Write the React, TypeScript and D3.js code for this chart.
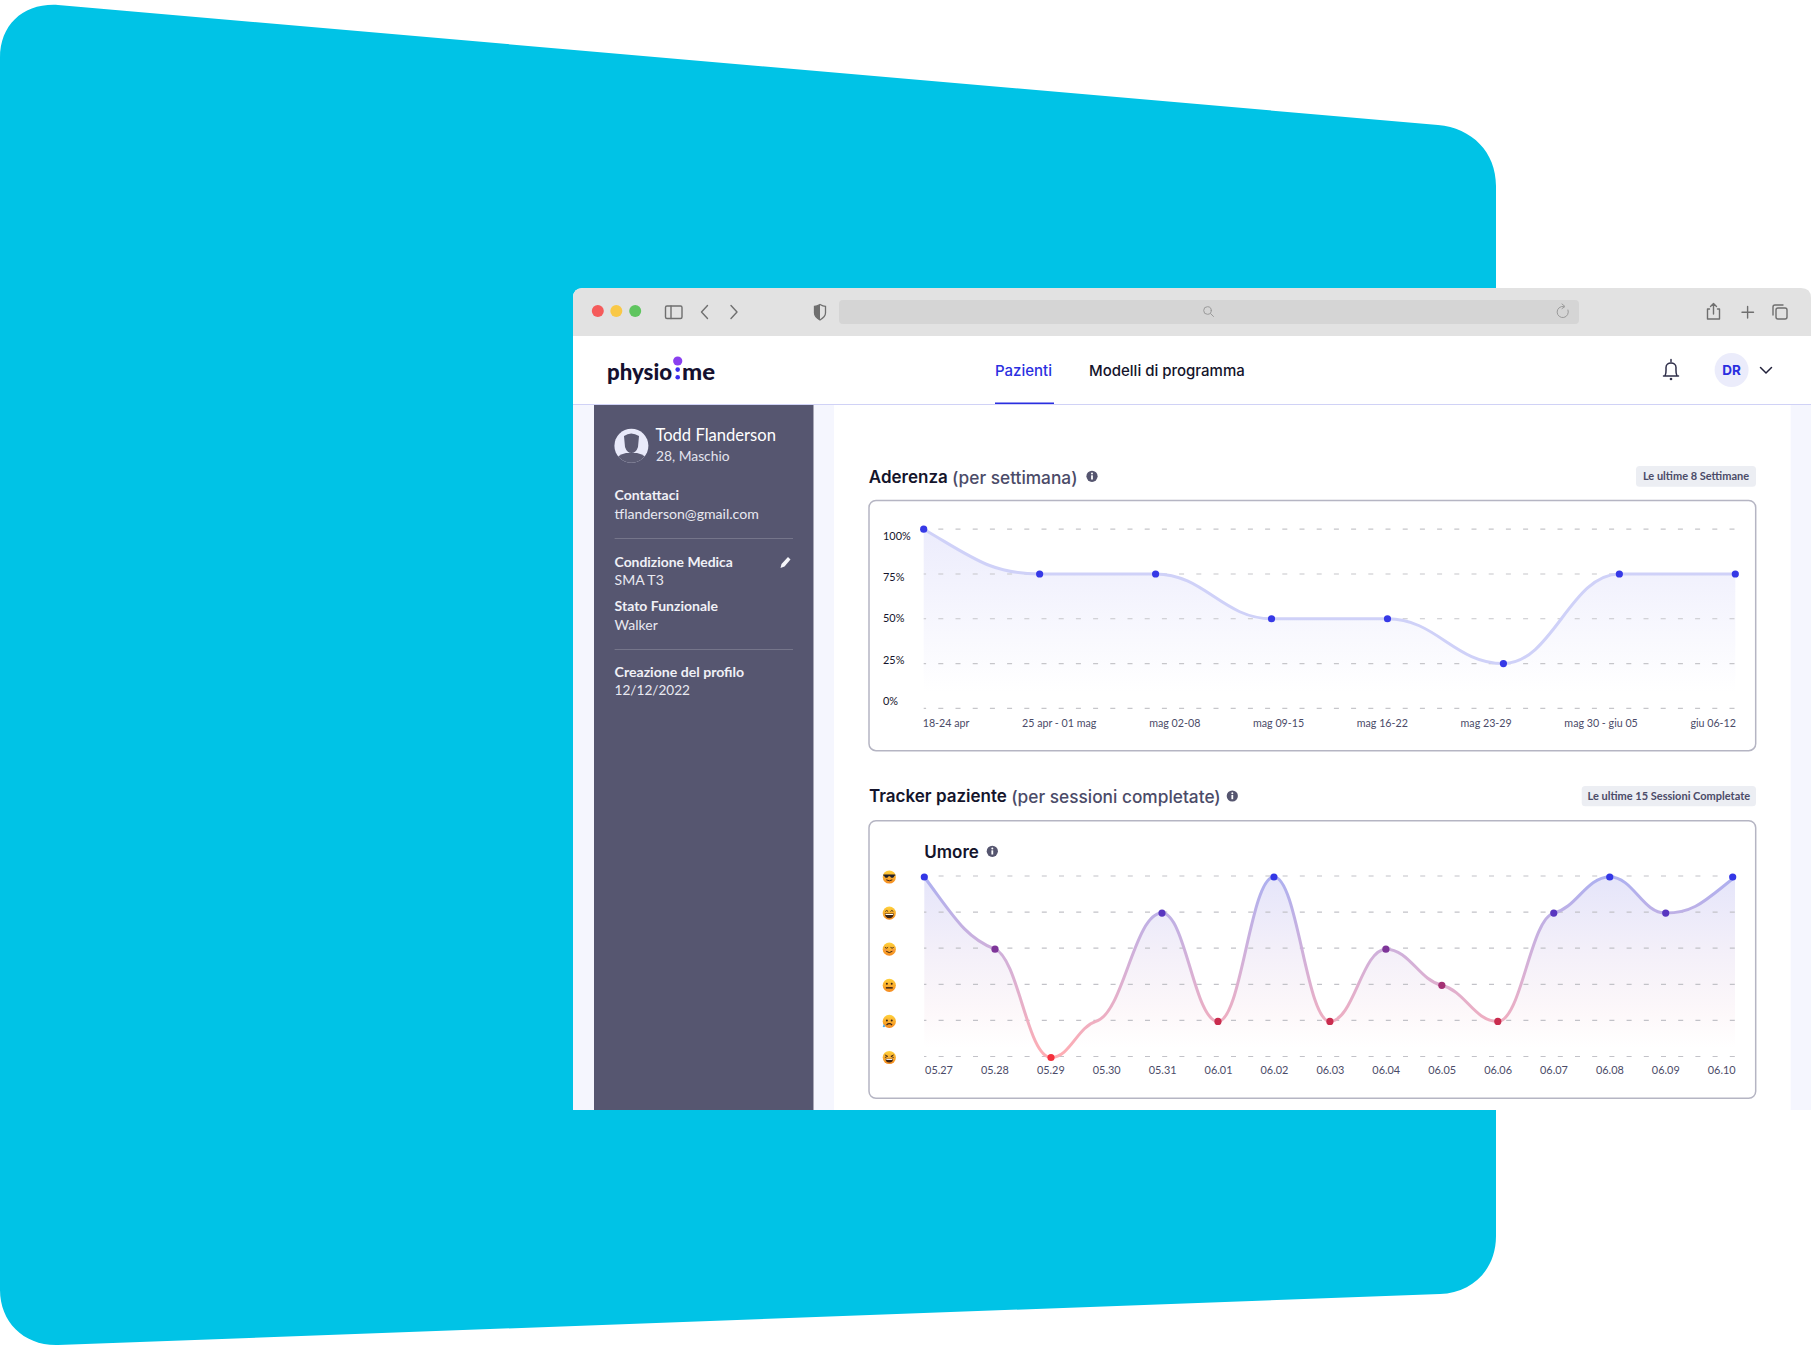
import React from "react";
import * as d3 from "d3";

// Aderenza (per settimana)
const weekLabels = ["18-24 apr", "25 apr - 01 mag", "mag 02-08", "mag 09-15", "mag 16-22", "mag 23-29", "mag 30 - giu 05", "giu 06-12"];
const weekValues = [100, 75, 75, 50, 50, 25, 75, 75];
const percentTicks = [100, 75, 50, 25, 0];

// Tracker paziente, umore 0-5 (05.30 has no dot in the picture)
const sessionLabels = ["05.27", "05.28", "05.29", "05.30", "05.31", "06.01", "06.02", "06.03", "06.04", "06.05", "06.06", "06.07", "06.08", "06.09", "06.10"];
const moodValues = [5, 3, 0, 1, 4, 1, 5, 1, 3, 2, 1, 4, 5, 4, 5];
const moodLevels = [5, 4, 3, 2, 1, 0];
const undottedSessions = ["05.30"];

const sans = "Lato, 'Noto Sans', sans-serif";
const heading = "Inter, sans-serif";
const ink = "#14142b";
const slate = "#4b4b68";

// monotone tangents, pulled flatter at inner points so the line eases through them
class SoftCurve {
  _context: any;
  _line: any;
  xs: number[] = [];
  ys: number[] = [];
  constructor(context: any) {
    this._context = context;
  }
  areaStart() {
    this._line = 0;
  }
  areaEnd() {
    this._line = NaN;
  }
  lineStart() {
    this.xs = [];
    this.ys = [];
  }
  point(x: number, y: number) {
    this.xs.push(+x);
    this.ys.push(+y);
  }
  lineEnd() {
    const { xs, ys } = this;
    const n = xs.length;
    const secant = (i: number) => (ys[i + 1] - ys[i]) / (xs[i + 1] - xs[i] || 1);
    const tangents = xs.map((_, i) => {
      if (i === 0 || i === n - 1) return 0;
      const a = secant(i - 1);
      const b = secant(i);
      if (a * b <= 0) return 0;
      const s = Math.sign(a);
      return s * Math.min(Math.abs(a), Math.abs(b)) * 0.38;
    });
    if (n > 1) {
      tangents[0] = (3 * secant(0) - tangents[1]) / 2;
      tangents[n - 1] = (3 * secant(n - 2) - tangents[n - 2]) / 2;
    }
    for (let i = 0; i < n; i++) {
      if (i === 0) {
        this._line ? this._context.lineTo(xs[0], ys[0]) : this._context.moveTo(xs[0], ys[0]);
      } else {
        const d = (xs[i] - xs[i - 1]) * 0.42;
        this._context.bezierCurveTo(xs[i - 1] + d, ys[i - 1] + d * tangents[i - 1], xs[i] - d, ys[i] - d * tangents[i], xs[i], ys[i]);
      }
    }
    if (this._line) this._context.closePath();
    this._line = 1 - this._line;
  }
}
const softCurve = (context: any) => new SoftCurve(context);

// labels laid out like a space-between flex row
const measure = (label: string, font: string) => {
  const ctx = document.createElement("canvas").getContext("2d")!;
  ctx.font = font;
  return ctx.measureText(label).width;
};
const spaceBetween = (labels: string[], font: string, x0: number, x1: number) => {
  const widths = labels.map((l) => measure(l, font));
  const gap = (x1 - x0 - d3.sum(widths)) / (labels.length - 1);
  let cursor = x0;
  return widths.map((w) => {
    const at = cursor;
    cursor += w + gap;
    return at;
  });
};

const Label = ({ x, y, size = 13.5, weight = 400, fill = ink, anchor = "start", family = sans, children }: any) => (
  <text x={x} y={family === sans ? y - 1 : y} fontSize={size} fontWeight={weight} fill={fill} textAnchor={anchor} fontFamily={family} dominantBaseline="central">
    {children}
  </text>
);

const Info = ({ x, y }: { x: number; y: number }) => (
  <g transform={`translate(${x},${y})`}>
    <circle r={5.6} fill="#55556f" />
    <rect x={-0.9} y={-1} width={1.8} height={4.2} fill="#fff" />
    <circle cy={-2.8} r={1} fill="#fff" />
  </g>
);

const Badge = ({ x0, x1, y0, y1, children }: any) => (
  <g>
    <rect x={x0} y={y0} width={x1 - x0} height={y1 - y0} rx={3.5} fill="#eceef3" />
    <Label x={(x0 + x1) / 2} y={(y0 + y1) / 2 + 0.5} size={11} weight={700} fill={slate} anchor="middle">
      {children}
    </Label>
  </g>
);

const Face = ({ level, x, y }: { level: number; x: number; y: number }) => {
  const dark = "#3c2415";
  return (
    <g transform={`translate(${x},${y})`}>
      <circle r={6.6} fill="url(#faceFill)" />
      {level === 5 && (
        <g>
          <path d="M-6,-2.6H6V-1.2L5,-1.2C4.6,1.4 1.6,1.4 0.8,-0.8H-0.8C-1.6,1.4 -4.6,1.4 -5,-1.2L-6,-1.2Z" fill="#20202a" />
          <path d="M-3,2.8Q0,4.8 3,2.8" stroke={dark} strokeWidth={1} fill="none" />
        </g>
      )}
      {level === 4 && (
        <g>
          <path d="M-4,-1.6Q-2.6,-3.6 -1.2,-1.6M1.2,-1.6Q2.6,-3.6 4,-1.6" stroke={dark} strokeWidth={0.9} fill="none" />
          <path d="M-4.6,0.4H4.6Q4,5.2 0,5.2Q-4,5.2 -4.6,0.4Z" fill={dark} />
          <path d="M-4,0.8H4L3.6,2H-3.6Z" fill="#fff" />
        </g>
      )}
      {level === 3 && (
        <g>
          <path d="M-4.4,-1.8Q-2.8,-0.2 -1.2,-1.8M1.2,-1.8Q2.8,-0.2 4.4,-1.8" stroke={dark} strokeWidth={0.9} fill="none" />
          <path d="M-3.2,2Q0,4.8 3.2,2" stroke={dark} strokeWidth={1} fill="none" />
          <circle cx={-4} cy={1} r={1.3} fill="#f58a4a" opacity={0.7} />
          <circle cx={4} cy={1} r={1.3} fill="#f58a4a" opacity={0.7} />
        </g>
      )}
      {level === 2 && (
        <g>
          <circle cx={-2.4} cy={-1.6} r={1} fill={dark} />
          <circle cx={2.4} cy={-1.6} r={1} fill={dark} />
          <rect x={-3.4} y={1.8} width={6.8} height={1.5} fill={dark} />
        </g>
      )}
      {level === 1 && (
        <g>
          <circle cx={-2.4} cy={-1} r={1} fill={dark} />
          <circle cx={2.4} cy={-1} r={1} fill={dark} />
          <path d="M-2.8,3.6Q0,1 2.8,3.6" stroke={dark} strokeWidth={1.1} fill="none" />
          <path d="M-5.4,2.6L-6.6,5Q-5.4,6.6 -4.2,5Z" fill="#4aa8e8" />
        </g>
      )}
      {level === 0 && (
        <g>
          <path d="M-4.4,-2.6L-1.6,-1.2L-4.4,0M4.4,-2.6L1.6,-1.2L4.4,0" stroke={dark} strokeWidth={0.9} fill="none" />
          <path d="M-3.6,1.2H3.6Q4,5 0,5Q-4,5 -3.6,1.2Z" fill={dark} />
          <rect x={-3} y={1.4} width={6} height={1} fill="#fff" />
        </g>
      )}
    </g>
  );
};

const App = () => {
  // Aderenza chart
  const weekX = d3.scalePoint<string>().domain(weekLabels).range([923.7, 1735.3]);
  const weekY = d3.scaleLinear().domain([0, 100]).range([708.3, 529.2]);
  const weekTickY = d3.scaleLinear().domain([0, 100]).range([701.5, 536]);
  const weekFont = `10.7px Lato`;
  const weekLabelX = spaceBetween(weekLabels, weekFont, 922.7, 1736);
  const weekSeries = weekLabels.map((l, i) => ({ label: l, value: weekValues[i] }));
  const weekLine = d3
    .line<{ label: string; value: number }>()
    .x((d) => weekX(d.label)!)
    .y((d) => weekY(d.value))
    .curve(softCurve as any);
  const weekArea = d3
    .area<{ label: string; value: number }>()
    .x((d) => weekX(d.label)!)
    .y0(708.3)
    .y1((d) => weekY(d.value))
    .curve(softCurve as any);

  // Umore chart: inner sessions sit on the labels, the two ends are stretched to the plot edges
  const tickX = d3.scalePoint<string>().domain(sessionLabels).range([939, 1721.7]);
  const moodX = d3
    .scaleLinear()
    .domain([0, 1, 2, 3, 4, 13, 14])
    .range([924.3, 995, 1051, 1096, 1162, 1665.7, 1735]);
  const moodY = d3.scaleLinear().domain([0, 5]).range([1057.5, 877]);
  const moodGridY = (v: number) => moodY(v) - 1;
  const moodDot = d3.scaleLinear<string>().domain([0, 1, 3, 5]).range(["#f5303c", "#c92c4e", "#7e3599", "#3337e6"]);
  const moodSeries = sessionLabels.map((l, i) => ({ label: l, value: moodValues[i], i }));
  const moodLine = d3
    .line<{ value: number; i: number }>()
    .x((d) => moodX(d.i))
    .y((d) => moodY(d.value))
    .curve(softCurve as any);
  const moodArea = d3
    .area<{ value: number; i: number }>()
    .x((d) => moodX(d.i))
    .y0(1057.5)
    .y1((d) => moodY(d.value))
    .curve(softCurve as any);

  const last = sessionLabels.length - 1;

  return (
    <svg width={1812} height={1348} style={{ position: "absolute", left: 0, top: 0, display: "block" }}>
      <defs>
        <linearGradient id="weekFill" gradientUnits="userSpaceOnUse" x1={0} x2={0} y1={529} y2={692}>
          <stop offset="0" stopColor="#ececfc" />
          <stop offset="1" stopColor="#ffffff" />
        </linearGradient>
        <linearGradient id="moodFill" gradientUnits="userSpaceOnUse" x1={0} x2={0} y1={877} y2={1048}>
          <stop offset="0" stopColor="#e5e5fa" />
          <stop offset="0.45" stopColor="#f4f0f9" />
          <stop offset="0.8" stopColor="#fdf8fa" />
          <stop offset="1" stopColor="#ffffff" />
        </linearGradient>
        <linearGradient id="moodStroke" gradientUnits="userSpaceOnUse" x1={0} x2={0} y1={877} y2={1057}>
          <stop offset="0" stopColor="#adb0f0" />
          <stop offset="0.5" stopColor="#d6b0d6" />
          <stop offset="1" stopColor="#ffadb3" />
        </linearGradient>
        <linearGradient id="faceFill" x1={0} x2={0} y1={0} y2={1}>
          <stop offset="0" stopColor="#ffd23c" />
          <stop offset="1" stopColor="#f58a1f" />
        </linearGradient>
        <clipPath id="avatarClip">
          <circle cx={631.4} cy={445.7} r={17} />
        </clipPath>
      </defs>

      <rect width={1812} height={1348} fill="#fff" />
      <path
        d="M0,58C0,24 24,3 58,5L1438,125C1472,128 1496,152 1496,186L1496,1236C1496,1270 1472,1293 1440,1294L58,1345C24,1346 0,1322 0,1290Z"
        fill="#00c3e6"
      />

      {/* browser window */}
      <path d="M573,298Q573,288 583,288H1801Q1811,288 1811,298V1110H573Z" fill="#fff" />
      <path d="M573,298Q573,288 583,288H1801Q1811,288 1811,298V336H573Z" fill="#e2e2e2" />
      <circle cx={597.8} cy={311} r={6} fill="#f55b5b" />
      <circle cx={616.3} cy={311} r={6} fill="#f9c846" />
      <circle cx={635.2} cy={311} r={6} fill="#5fc55f" />
      <rect x={839} y={300} width={740} height={24} rx={4} fill="#d5d5d5" />
      <g fill="none" stroke="#6f6f6f" strokeWidth={1.4} strokeLinecap="round" strokeLinejoin="round">
        <rect x={665.5} y={306} width={16.5} height={12.5} rx={1.5} />
        <path d="M671,306V318.5" />
        <path d="M707.5,305.5L701.5,312L707.5,318.5" />
        <path d="M731,305.5L737,312L731,318.5" />
        <circle cx={1207.5} cy={310.5} r={3.8} strokeWidth={1} stroke="#9a9a9a" />
        <path d="M1210.5,313.5L1213.5,316.5" strokeWidth={1} stroke="#9a9a9a" />
        <path d="M1568,310A5.6,5.6 0 1 1 1563.5,306.4" strokeWidth={1} stroke="#9a9a9a" />
        <path d="M1562,304L1565,306.5L1562,308.6" strokeWidth={1} stroke="#9a9a9a" />
        <path d="M1709.5,309H1707.5V319H1719.5V309H1717.5" />
        <path d="M1713.5,314V304M1710.5,306.5L1713.5,303.5L1716.5,306.5" />
        <path d="M1747.6,306.5V318M1742,312.2H1753.5" />
        <rect x={1776} y={308} width={11} height={11} rx={2} />
        <path d="M1773,315V307Q1773,305 1775,305H1783" />
      </g>
      <path d="M820,304.5C817.5,306 815,306.4 814.5,306.4V313C814.5,316.5 817.5,318.5 820,320C822.5,318.5 825.5,316.5 825.5,313V306.4C825,306.4 822.5,306 820,304.5Z" fill="#e2e2e2" stroke="#6f6f6f" strokeWidth={1.3} />
      <path d="M820,304.5C817.5,306 815,306.4 814.5,306.4V313C814.5,316.5 817.5,318.5 820,320Z" fill="#6f6f6f" />

      {/* nav */}
      <text x={607} y={380} fontFamily={sans} fontWeight={900} fontSize={23} fill="#15102f" textLength={65} lengthAdjust="spacingAndGlyphs">
        physio
      </text>
      <text x={682} y={380} fontFamily={sans} fontWeight={900} fontSize={23} fill="#15102f" textLength={33} lengthAdjust="spacingAndGlyphs">
        me
      </text>
      <circle cx={677.7} cy={361} r={4.6} fill="#8a3ff0" />
      <circle cx={677.7} cy={369.6} r={2.3} fill="#3a2ff0" />
      <circle cx={677.7} cy={377.2} r={2.3} fill="#3a2ff0" />

      <Label x={995} y={370.5} size={15} weight={500} fill="#2a2fe0" family={heading}>
        Pazienti
      </Label>
      <Label x={1089} y={370.5} size={15} weight={500} fill={ink} family={heading}>
        Modelli di programma
      </Label>
      <rect x={995} y={402.5} width={59} height={2} fill="#2a2fe0" />
      <rect x={573} y={404} width={1238} height={1} fill="#d0d2f6" />
      <path d="M1665,376C1666.5,373 1666,371 1666,367.5C1666,361.5 1676,361.5 1676,367.5C1676,371 1675.5,373 1677,376Z M1663.5,376H1678.5 M1671,361.5V359.5" fill="none" stroke="#2f2f4a" strokeWidth={1.5} strokeLinejoin="round" strokeLinecap="round" />
      <circle cx={1671} cy={379} r={1.3} fill="#2f2f4a" />
      <circle cx={1731.6} cy={370} r={17} fill="#ebecfb" />
      <Label x={1731.6} y={370} size={13.5} weight={700} fill="#2a2fe0" anchor="middle" family={heading}>
        DR
      </Label>
      <path d="M1760.5,367.5L1766,373L1771.5,367.5" fill="none" stroke="#20203a" strokeWidth={1.5} strokeLinecap="round" />

      {/* side panels */}
      <rect x={573} y={405} width={21} height={705} fill="#f5f6fe" />
      <rect x={813.5} y={405} width={20.5} height={705} fill="#f5f6fe" />
      <rect x={1790.7} y={405} width={20.3} height={705} fill="#f5f6fe" />
      <rect x={594} y={405} width={219.5} height={705} fill="#565670" />

      <circle cx={631.4} cy={445.7} r={17} fill="#e9eafa" />
      <g clipPath="url(#avatarClip)" fill="#5b5b73">
        <path d="M624,436Q631,431 639,436L638,447Q636,453 631.4,453Q627,453 625,447Z" />
        <path d="M612,466Q614,456 626,453H637Q649,456 651,466Z" />
      </g>

      <Label x={655.4} y={435.5} size={16.6} weight={400} fill="#fff">
        Todd Flanderson
      </Label>
      <Label x={656} y={456} size={13.8} fill="#e4e4ee">
        28, Maschio
      </Label>
      <Label x={614.6} y={495.5} size={14} weight={700} fill="#f0f0f6">
        Contattaci
      </Label>
      <Label x={614.6} y={514.5} size={14.1} fill="#e9e9f1">
        tflanderson@gmail.com
      </Label>
      <rect x={614.6} y={538} width={178.4} height={1} fill="#75758a" />
      <Label x={614.6} y={562} size={13.9} weight={700} fill="#f0f0f6">
        Condizione Medica
      </Label>
      <path d="M780.5,568L781.5,564L788,557L790.5,559.5L784.5,566.5Z" fill="#f6f6fa" />
      <Label x={614.6} y={580.5} size={14} fill="#e9e9f1">
        SMA T3
      </Label>
      <Label x={614.6} y={606.5} size={14} weight={700} fill="#f0f0f6">
        Stato Funzionale
      </Label>
      <Label x={614.6} y={625} size={14} fill="#e9e9f1">
        Walker
      </Label>
      <rect x={614.6} y={649} width={178.4} height={1} fill="#75758a" />
      <Label x={614.6} y={672.5} size={14.1} weight={700} fill="#f0f0f6">
        Creazione del profilo
      </Label>
      <Label x={614.6} y={691} size={13.6} fill="#e9e9f1">
        12/12/2022
      </Label>

      {/* Aderenza */}
      <text x={868.8} y={476.5} fontFamily={heading} fontSize={17} fontWeight={600} fill={ink} dominantBaseline="central">
        Aderenza{" "}
        <tspan fontWeight={500} fontSize={17.3} fill={slate}>
          (per settimana)
        </tspan>
      </text>
      <Info x={1092} y={476.3} />
      <Badge x0={1636} x1={1756} y0={466} y1={486.7}>
        Le ultime 8 Settimane
      </Badge>
      <rect x={869} y={500.5} width={886.7} height={250.2} rx={7} fill="#fff" stroke="#b5b5c3" strokeWidth={1.5} />
      <path d={weekArea(weekSeries)!} fill="url(#weekFill)" />
      {percentTicks.map((t) => (
        <g key={t}>
          <line x1={923.7} x2={1735.3} y1={weekY(t)} y2={weekY(t)} stroke="#c6c6ca" strokeWidth={1.2} strokeDasharray="5 12.2" strokeDashoffset={2.6} />
          <Label x={883} y={weekTickY(t)} size={10.9} fill={ink}>
            {t}%
          </Label>
        </g>
      ))}
      <path d={weekLine(weekSeries)!} fill="none" stroke="#cfd1f8" strokeWidth={3} />
      {weekSeries.map((d) => (
        <circle key={d.label} cx={weekX(d.label)} cy={weekY(d.value)} r={3.6} fill="#3639e6" />
      ))}
      {weekLabels.map((l, i) => (
        <Label key={l} x={weekLabelX[i]} y={723} size={10.7} fill={slate}>
          {l}
        </Label>
      ))}

      {/* Tracker paziente */}
      <text x={869} y={796.3} fontFamily={heading} fontSize={17} fontWeight={600} fill={ink} dominantBaseline="central">
        Tracker paziente{" "}
        <tspan fontWeight={500} fontSize={17.3} fill={slate}>
          (per sessioni completate)
        </tspan>
      </text>
      <Info x={1232.3} y={796} />
      <Badge x0={1581.7} x1={1756} y0={786} y1={806.3}>
        Le ultime 15 Sessioni Completate
      </Badge>
      <rect x={869} y={820.7} width={886.7} height={277.6} rx={7} fill="#fff" stroke="#b5b5c3" strokeWidth={1.5} />
      <Label x={924.3} y={851.7} size={17} weight={600} fill={ink} family={heading}>
        Umore
      </Label>
      <Info x={992.3} y={851.3} />
      <path d={moodArea(moodSeries)!} fill="url(#moodFill)" />
      {moodLevels.map((v) => (
        <g key={v}>
          <line x1={924} x2={1735.3} y1={moodGridY(v)} y2={moodGridY(v)} stroke="#c2c2c8" strokeWidth={1.2} strokeDasharray="5 12.2" strokeDashoffset={2.6} />
          <Face level={v} x={889.3} y={moodGridY(v) + 1} />
        </g>
      ))}
      <path d={moodLine(moodSeries)!} fill="none" stroke="url(#moodStroke)" strokeWidth={3} />
      {moodSeries
        .filter((d) => !undottedSessions.includes(d.label))
        .map((d) => (
          <circle key={d.label} cx={d.i === last ? moodX(d.i) - 2.3 : moodX(d.i)} cy={moodY(d.value)} r={3.6} fill={moodDot(d.value)} />
        ))}
      {sessionLabels.map((l) => (
        <Label key={l} x={tickX(l)} y={1070.3} size={10.9} fill={slate} anchor="middle">
          {l}
        </Label>
      ))}
    </svg>
  );
};

export default App;
